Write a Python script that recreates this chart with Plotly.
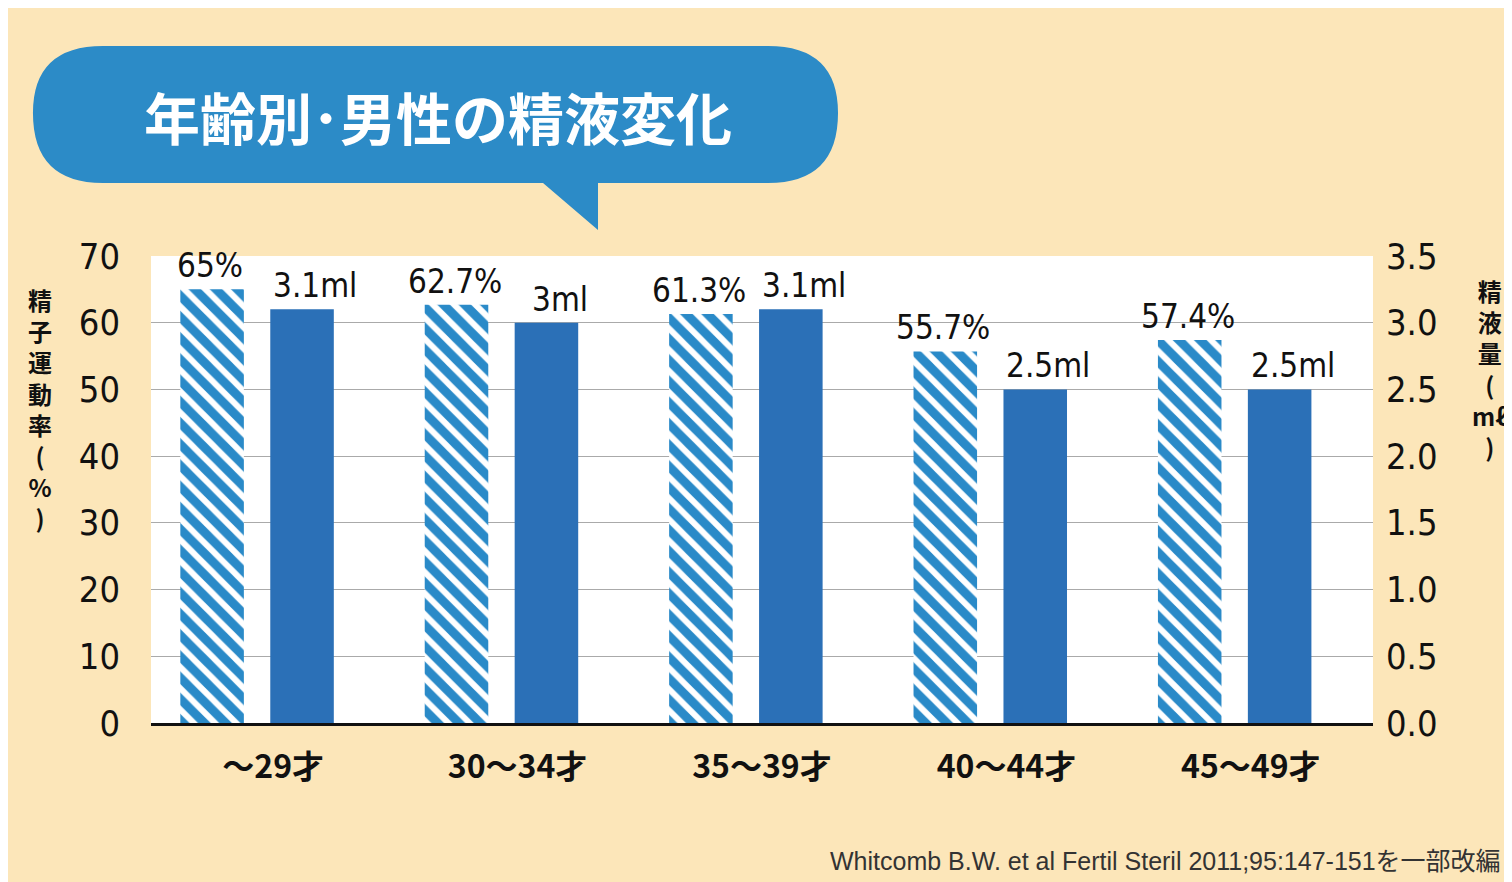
import plotly.graph_objects as go

categories = ["～29才", "30～34才", "35～39才", "40～44才", "45～49才"]
motility = [65, 62.7, 61.3, 55.7, 57.4]
volume = [3.1, 3.0, 3.1, 2.5, 2.5]
mot_labels = ["65%", "62.7%", "61.3%", "55.7%", "57.4%"]
vol_labels = ["3.1ml", "3ml", "3.1ml", "2.5ml", "2.5ml"]
left_ticks = [0, 10, 20, 30, 40, 50, 60, 70]
right_ticks = [0, 0.5, 1.0, 1.5, 2.0, 2.5, 3.0, 3.5]

BG = "#FCE6B9"
HAND = "Liberation Sans Narrow, DejaVu Sans Condensed, sans-serif"
W, H = 1512 - 143 - 147, 882 - 248 - 167
def pxx(x): return (x - 143) / W
def pxy(y): return (882 - 167 - y) / H
def px(x, y): return f"{pxx(x):.4f} {pxy(y):.4f}"

fig = go.Figure()
fig.add_bar(x=categories, y=motility, width=0.26, offset=-0.38,
            marker=dict(color="#2A8AC8", line_width=0,
                        pattern=dict(shape="\\", fgcolor="white", fgopacity=1, size=15, solidity=0.4)),
            yaxis="y")
fig.add_bar(x=categories, y=volume, width=0.26, offset=-0.012,
            marker=dict(color="#2B70B7", line_width=0), yaxis="y2")

ann = []
for c, v, t in zip(categories, motility, mot_labels):
    ann.append(dict(x=c, y=v, xref="x", yref="y", text=t, showarrow=False, yanchor="bottom",
                    xshift=-63, yshift=2, font=dict(size=33, color="#111", family=HAND)))
for c, v, t in zip(categories, volume, vol_labels):
    ann.append(dict(x=c, y=v, xref="x", yref="y2", text=t, showarrow=False, yanchor="bottom",
                    xshift=42, yshift=2, font=dict(size=33, color="#111", family=HAND)))
ann.append(dict(x=pxx(32), y=pxy(400), xref="paper", yref="paper",
                text="<b>精<br>子<br>運<br>動<br>率<br>(<br>%<br>)</b>", showarrow=False,
                font=dict(size=24, color="#111", family="Noto Sans CJK JP"), xanchor="center", yanchor="middle"))
ann.append(dict(x=pxx(1482), y=pxy(360), xref="paper", yref="paper",
                text="<b>精<br>液<br>量<br>(<br>mℓ<br>)</b>", showarrow=False,
                font=dict(size=24, color="#111", family="Noto Sans CJK JP"), xanchor="center", yanchor="middle"))
ann.append(dict(xref="paper", yref="paper", x=pxx(1495), y=pxy(853), xanchor="right", yanchor="middle",
                text="Whitcomb B.W. et al Fertil Steril 2011;95:147-151を一部改編", showarrow=False,
                font=dict(size=25, color="#333", family="Liberation Sans, Noto Sans CJK JP")))
ann.append(dict(xref="paper", yref="paper", x=pxx(430), y=pxy(108), xanchor="center", yanchor="middle",
                text="<b>年齢別･男性の精液変化</b>", showarrow=False,
                font=dict(size=56, color="white", family="Noto Sans CJK JP")))

path = ("M " + px(95, 38) + " L " + px(760, 38) + " Q " + px(830, 38) + " " + px(830, 105) +
        " Q " + px(830, 175) + " " + px(760, 175) + " L " + px(590, 175) + " L " + px(590, 222) +
        " L " + px(535, 175) + " L " + px(95, 175) + " Q " + px(25, 175) + " " + px(25, 105) +
        " Q " + px(25, 38) + " " + px(95, 38) + " Z")

fig.update_layout(
    width=1512, height=882, paper_bgcolor=BG, plot_bgcolor="white",
    margin=dict(l=143, r=147, t=248, b=167), showlegend=False, barmode="overlay",
    xaxis=dict(tickfont=dict(size=32, color="#111", family="Noto Sans CJK JP"), showline=True,
               linecolor="#111", linewidth=3, ticks="", ticklabelstandoff=14,
               tickvals=categories, ticktext=[f"<b>{c}</b>" for c in categories]),
    yaxis=dict(range=[0, 70], tickvals=left_ticks, gridcolor="#AAAAAA", gridwidth=1,
               tickfont=dict(size=36, color="#111", family=HAND), ticklabelstandoff=30, zeroline=False),
    yaxis2=dict(range=[0, 3.5], tickvals=right_ticks, ticktext=[f"{t:.1f}" for t in right_ticks],
                overlaying="y", side="right", showgrid=False, zeroline=False,
                tickfont=dict(size=36, color="#111", family=HAND), ticklabelstandoff=12),
    annotations=ann,
    shapes=[dict(type="path", xref="paper", yref="paper", path=path,
                 fillcolor="#2C8BC7", line_width=0, layer="above")],
)
fig.write_html("out.html")
